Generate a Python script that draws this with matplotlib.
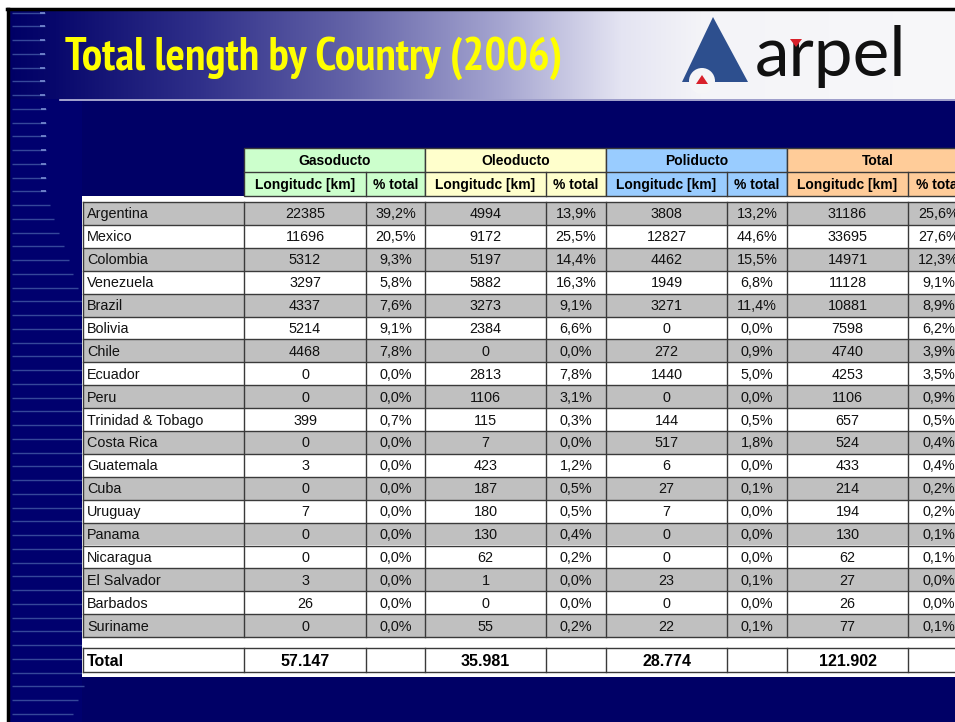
import numpy as np
import matplotlib
matplotlib.use("Agg")
import matplotlib.pyplot as plt
from matplotlib.patches import Rectangle, Polygon, Circle
from matplotlib import font_manager as fm
from matplotlib.font_manager import FontProperties

# ---------------- data ----------------
title = "Total length by Country (2006)"
groups = ["Gasoducto", "Oleoducto", "Poliducto", "Total"]
sub_headers = ["Longitudc [km]", "% total"]
countries = ["Argentina", "Mexico", "Colombia", "Venezuela", "Brazil", "Bolivia",
             "Chile", "Ecuador", "Peru", "Trinidad & Tobago", "Costa Rica",
             "Guatemala", "Cuba", "Uruguay", "Panama", "Nicaragua", "El Salvador",
             "Barbados", "Suriname"]
gas = [22385, 11696, 5312, 3297, 4337, 5214, 4468, 0, 0, 399, 0, 3, 0, 7, 0, 0, 3, 26, 0]
gas_pct = [39.2, 20.5, 9.3, 5.8, 7.6, 9.1, 7.8, 0.0, 0.0, 0.7, 0.0, 0.0, 0.0, 0.0, 0.0, 0.0, 0.0, 0.0, 0.0]
oil = [4994, 9172, 5197, 5882, 3273, 2384, 0, 2813, 1106, 115, 7, 423, 187, 180, 130, 62, 1, 0, 55]
oil_pct = [13.9, 25.5, 14.4, 16.3, 9.1, 6.6, 0.0, 7.8, 3.1, 0.3, 0.0, 1.2, 0.5, 0.5, 0.4, 0.2, 0.0, 0.0, 0.2]
poly = [3808, 12827, 4462, 1949, 3271, 0, 272, 1440, 0, 144, 517, 6, 27, 7, 0, 0, 23, 0, 22]
poly_pct = [13.2, 44.6, 15.5, 6.8, 11.4, 0.0, 0.9, 5.0, 0.0, 0.5, 1.8, 0.0, 0.1, 0.0, 0.0, 0.0, 0.1, 0.0, 0.1]
total = [31186, 33695, 14971, 11128, 10881, 7598, 4740, 4253, 1106, 657, 524, 433, 214, 194, 130, 62, 27, 26, 77]
total_pct = [25.6, 27.6, 12.3, 9.1, 8.9, 6.2, 3.9, 3.5, 0.9, 0.5, 0.4, 0.4, 0.2, 0.2, 0.1, 0.1, 0.0, 0.0, 0.1]
total_row_label = "Total"
grand_totals = ["57.147", "35.981", "28.774", "121.902"]

# ---------------- layout / style ----------------
W, H = 955, 722
fig = plt.figure(figsize=(W / 100, H / 100), dpi=100)
ax = fig.add_axes([0, 0, 1, 1])
ax.set_xlim(0, W)
ax.set_ylim(H, 0)
ax.axis("off")

sans = "Liberation Sans"


def pick_condensed_bold():
    best = None
    for f in fm.fontManager.ttflist:
        name = f.name.lower()
        cond = (str(f.stretch) in ("condensed", "semi-condensed", "extra-condensed",
                                   "ultra-condensed")
                or "narrow" in name or "condensed" in name
                or "narrow" in f.fname.lower() or "condensed" in f.fname.lower())
        w = f.weight if isinstance(f.weight, int) else {"bold": 700}.get(str(f.weight), 400)
        if cond and w >= 600:
            score = 0
            if "liberation" in name or "narrow" in f.fname.lower():
                score = 3
            elif "roboto" in name:
                score = 2
            elif "dejavu" in name:
                score = 1
            if best is None or score > best[0]:
                best = (score, f.fname)
    if best:
        return FontProperties(fname=best[1])
    return FontProperties(family=sans, weight="bold")


NAVY = (0 / 255, 0 / 255, 102 / 255)
fig.patch.set_facecolor("white")

# slide background
ax.add_patch(Rectangle((8, 9), W, H, facecolor=NAVY, edgecolor="none", zorder=0))

# title banner gradient
xs = np.arange(9, W)
cx = [9, 55, 200, 350, 500, 620, 700, W]
cr = [(0, 0, 102), (8, 8, 108), (48, 48, 138), (100, 100, 168), (165, 165, 208),
      (228, 228, 242), (244, 244, 248), (248, 248, 250)]
cr = np.array(cr) / 255.0
grad = np.stack([np.interp(xs, cx, cr[:, i]) for i in range(3)], axis=-1)[None, :, :]
ax.imshow(grad, extent=(9, W, 99, 10), aspect="auto", zorder=1, interpolation="bilinear")
ax.plot([60, W], [99.5, 99.5], color=(0.75, 0.75, 0.88), lw=1.2, zorder=2)

# left decorative strip (below the banner)
ax.add_patch(Rectangle((9, 99), 73, H, facecolor=(0, 0, 110 / 255), edgecolor="none", zorder=1.5))
ys = np.arange(12.5, H, 13.75)
ends = np.interp(ys, [0, 195, 240, 300, 660, 680, 700, 722], [45, 46, 62, 82, 82, 87, 78, 70])
for y, e in zip(ys, ends):
    ax.plot([12, e], [y, y], color=(60 / 255, 80 / 255, 160 / 255), lw=1.0, alpha=0.9,
            zorder=2, solid_capstyle="butt")
    if y < 200:
        ax.plot([e - 5, e], [y, y], color=(120 / 255, 140 / 255, 210 / 255), lw=1.2, zorder=2.1,
                solid_capstyle="butt")

# black frame
ax.plot([7, W], [9, 9], color="black", lw=2.5, zorder=3)
ax.plot([8, 8], [9, H], color="black", lw=2.5, zorder=3)

# title (condensed bold, fitted to the reference width)
tfp = pick_condensed_bold()
tfp.set_size(35)
t = ax.text(65, 58, title, color="#ffff00", fontproperties=tfp,
            va="center", ha="left", zorder=5)
fig.canvas.draw()
bb = t.get_window_extent(renderer=fig.canvas.get_renderer())
target_w = 498
scale = target_w / bb.width
if scale < 1.0:
    tfp.set_size(35 * scale)
    t.set_fontproperties(tfp)

# logo
blue = "#2d4f8e"
ax.add_patch(Polygon([(713, 17), (682, 82), (748, 82)], closed=True, facecolor=blue,
                     edgecolor="none", zorder=4))
ax.add_patch(Circle((702, 81), 13, facecolor=(0.96, 0.96, 0.97), edgecolor="none", zorder=4.1))
ax.add_patch(Polygon([(696, 84), (708, 84), (702, 75)], closed=True, facecolor="#d8202a",
                     edgecolor="none", zorder=4.2))
ax.text(755, 76, "arpel", fontsize=50, family="Lato", fontweight="normal", color="#111111",
        va="baseline", ha="left", zorder=4.3)
ax.add_patch(Polygon([(790, 39), (802, 39), (796, 47)], closed=True, facecolor="#d8202a",
                     edgecolor="none", zorder=4.4))

# ---------------- table ----------------
col_edges = [83, 244, 366, 425, 546, 606, 727, 787, 908, 969]
group_colors = ["#ccffcc", "#ffffcc", "#99ccff", "#ffcc99"]
line_c = "#3a3a3a"
lw = 1.0

# white background of the table
ax.add_patch(Rectangle((82, 196), W - 82, 481, facecolor="white", edgecolor="none", zorder=3))

# header rows
h1, h2, h3 = 148, 172, 196
for g, name in enumerate(groups):
    x0 = col_edges[1 + 2 * g]
    x1 = col_edges[3 + 2 * g]
    xm = col_edges[2 + 2 * g]
    ax.add_patch(Rectangle((x0, h1), x1 - x0, h3 - h1, facecolor=group_colors[g],
                           edgecolor=line_c, lw=lw, zorder=4))
    ax.plot([x0, x1], [h2, h2], color=line_c, lw=lw, zorder=5)
    ax.plot([xm, xm], [h2, h3], color=line_c, lw=lw, zorder=5)
    ax.text((x0 + x1) / 2, (h1 + h2) / 2 + 1, name, fontsize=10, fontweight="bold",
            family=sans, ha="center", va="center", zorder=6)
    ax.text((x0 + xm) / 2, (h2 + h3) / 2 + 1, sub_headers[0], fontsize=10, fontweight="bold",
            family=sans, ha="center", va="center", zorder=6)
    ax.text((xm + x1) / 2, (h2 + h3) / 2 + 1, sub_headers[1], fontsize=10, fontweight="bold",
            family=sans, ha="center", va="center", zorder=6)


def pct(v):
    return f"{v:.1f}%".replace(".", ",")


row_top = 202.0
row_h = 22.9
n = len(countries)
for i in range(n):
    y0 = row_top + i * row_h
    fc = "#c0c0c0" if i % 2 == 0 else "white"
    ax.add_patch(Rectangle((col_edges[0], y0), W - col_edges[0] + 20, row_h, facecolor=fc,
                           edgecolor="none", zorder=3.5))
    cells = [gas[i], pct(gas_pct[i]), oil[i], pct(oil_pct[i]), poly[i], pct(poly_pct[i]),
             total[i], pct(total_pct[i])]
    yc = y0 + row_h / 2 + 1
    ax.text(col_edges[0] + 4, yc, countries[i], fontsize=10.4, family=sans,
            ha="left", va="center", zorder=6, color="#111111")
    for j, c in enumerate(cells):
        xc = (col_edges[1 + j] + col_edges[2 + j]) / 2
        ax.text(xc, yc, str(c), fontsize=10.4, family=sans, ha="center", va="center",
                zorder=6, color="#111111")
# horizontal lines
for i in range(n + 1):
    y = row_top + i * row_h
    ax.plot([col_edges[0], W], [y, y], color=line_c, lw=lw, zorder=5)
# vertical lines
for x in col_edges[:-1]:
    ax.plot([x, x], [row_top, row_top + n * row_h], color=line_c, lw=lw, zorder=5)

# total row
t0, t1 = 648, 672
ax.plot([col_edges[0], W], [t0, t0], color=line_c, lw=lw, zorder=5)
ax.plot([col_edges[0], W], [t1, t1], color=line_c, lw=lw, zorder=5)
for x in col_edges[:-1]:
    ax.plot([x, x], [t0, t1], color=line_c, lw=lw, zorder=5)
ax.text(col_edges[0] + 4, (t0 + t1) / 2 + 1, total_row_label, fontsize=11.5, fontweight="bold",
        family=sans, ha="left", va="center", zorder=6)
for g, v in enumerate(grand_totals):
    xc = (col_edges[1 + 2 * g] + col_edges[2 + 2 * g]) / 2
    ax.text(xc, (t0 + t1) / 2 + 1, v, fontsize=11.5, fontweight="bold", family=sans,
            ha="center", va="center", zorder=6)

fig.savefig("out.png", dpi=100, facecolor="white")
